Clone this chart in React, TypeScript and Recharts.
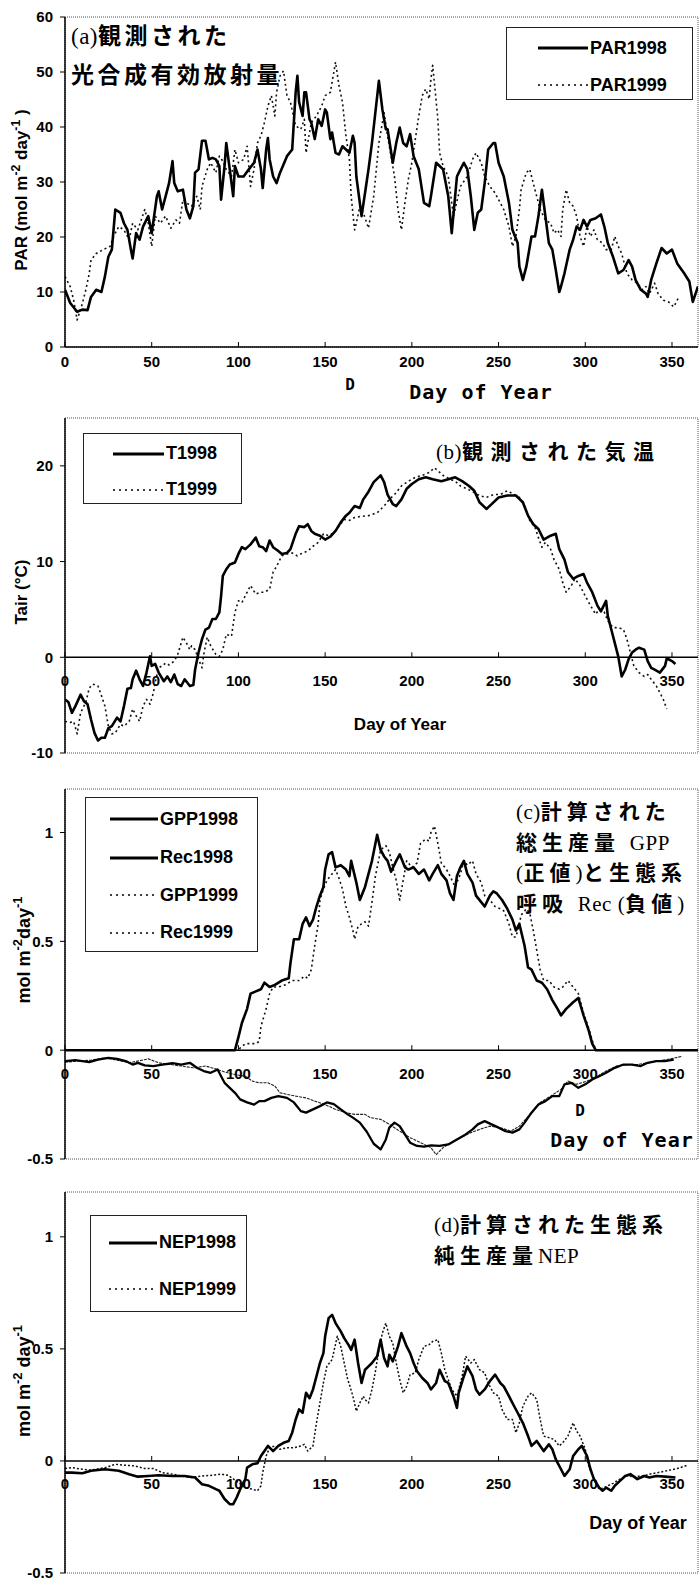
import type { ReactNode } from "react";
import { Line, LineChart, ReferenceArea, ReferenceLine, XAxis, YAxis } from "recharts";

type Pt = [number, number];

// day of year ticks shared by all four panels
const dayTicks = [0, 50, 100, 150, 200, 250, 300, 350];
const parTicks = [0, 10, 20, 30, 40, 50, 60];
const tairTicks = [-10, 0, 10, 20];
const fluxTicks = [-0.5, 0, 0.5, 1];

// (a) PAR, mol m-2 day-1
const par1998: Pt[] = [
  [0, 10.4], [3, 8], [7, 6.4], [10, 6.8], [13, 6.7], [15, 9.1], [18, 10.4], [21, 10], [23, 12.8], [25, 16.4],
  [27, 17.7], [29, 25], [32, 24.4], [34, 22.5], [36, 21.3], [38, 17.7], [39, 16.1], [41, 20.7], [43, 19.5],
  [45, 21.9], [48, 23.8], [50, 20.7], [53, 27.4], [54, 28.3], [56, 25], [58, 27.4], [60, 29.8], [62, 33.8],
  [63, 29.8], [65, 28.3], [68, 28.6], [70, 25], [72, 23.4], [74, 25.6], [75, 31.7], [77, 32.3], [79, 37.5],
  [81, 37.5], [83, 34.1], [85, 34.4], [87, 34.1], [89, 32.9], [90, 26.8], [92, 32.9], [93, 37.1], [95, 32.3],
  [97, 27.4], [98, 32.9], [100, 31], [103, 31], [106, 32.3], [109, 33.5], [111, 35.9], [113, 32.3], [114, 28.9],
  [116, 35.9], [117, 38], [118, 34.1], [120, 31], [122, 29.8], [124, 31.7], [126, 33.2], [128, 34.7], [131, 35.9],
  [133, 46.3], [134, 49.3], [135, 44.5], [137, 42], [138, 46.3], [139, 46.3], [141, 41.4], [142, 40.8], [144, 37.8],
  [146, 41.4], [148, 40.2], [150, 43.2], [151, 42.6], [153, 37.8], [154, 39], [156, 35.3], [158, 35], [160, 36.5],
  [162, 35.9], [164, 35.3], [166, 38.4], [167, 37.1], [168, 31], [170, 26.2], [171, 23.8], [173, 28], [175, 32.3],
  [177, 37.1], [181, 48.4], [183, 43.2], [185, 39.6], [186, 39.6], [189, 33.5], [191, 37.1], [193, 39.9],
  [195, 37.1], [197, 36.5], [199, 38.7], [201, 34.7], [204, 32.3], [207, 26.2], [210, 25.6], [211, 27.4],
  [214, 33.5], [216, 32.9], [218, 32.3], [221, 27.4], [223, 20.7], [226, 31], [228, 32.3], [230, 33.5], [232, 32.3],
  [234, 27.4], [236, 21.3], [238, 24.4], [240, 25], [242, 29.8], [244, 35.9], [247, 37.1], [248, 37.1], [250, 33.5],
  [253, 31], [256, 26.2], [258, 21.3], [261, 18.9], [262, 14.6], [264, 12.2], [266, 14.6], [269, 20.1], [271, 20.1],
  [273, 23.8], [275, 28.6], [277, 23.8], [279, 18.9], [281, 17.7], [283, 14], [285, 10], [286, 11], [288, 13.4],
  [291, 17.7], [293, 19.5], [295, 21.9], [297, 21.3], [299, 23.1], [301, 21.9], [303, 23.1], [306, 23.4],
  [309, 24.1], [311, 21.9], [313, 18.9], [316, 16.4], [319, 13.4], [322, 14], [325, 15.8], [327, 14.6], [329, 12.2],
  [332, 10.4], [335, 9.7], [336, 9.1], [338, 12.2], [341, 15.2], [344, 18], [347, 17], [350, 17.7], [353, 15.2],
  [357, 13.4], [360, 11.9], [362, 8.2], [365, 11],
];

const par1999: Pt[] = [
  [0, 12.8], [3, 11], [5, 8.5], [7, 4.9], [10, 7.9], [12, 10.4], [14, 13.4], [15, 15.8], [18, 17], [22, 17.7],
  [26, 18.3], [28, 20.1], [31, 21.9], [34, 21.3], [37, 19.5], [39, 22.5], [42, 21.3], [46, 25], [48, 22.5],
  [50, 18.3], [52, 23.8], [55, 22.5], [58, 23.8], [61, 21.6], [64, 23.1], [66, 22.5], [68, 26.8], [70, 26.2],
  [73, 25.6], [76, 27.4], [78, 25], [79, 29.2], [82, 32.3], [84, 33.5], [87, 31.7], [89, 34.7], [91, 33.8],
  [93, 32.3], [96, 31], [98, 35.9], [100, 33.5], [103, 34.1], [105, 36.5], [107, 29.2], [109, 32.3], [111, 37.1],
  [113, 38.4], [115, 40.8], [117, 43.8], [119, 45.7], [121, 42], [122, 46.3], [124, 49.3], [126, 50.2], [128, 45.7],
  [130, 44.5], [133, 40.2], [136, 39.6], [138, 41.4], [139, 35.3], [141, 39], [142, 40.8], [145, 42], [148, 43.8],
  [150, 45.7], [153, 46.3], [156, 51.8], [158, 47.5], [160, 44.5], [162, 38.4], [164, 34.1], [165, 27.4],
  [167, 21.3], [168, 22.5], [170, 25.6], [172, 24.4], [175, 21.6], [178, 27.4], [181, 37.1], [184, 42.6],
  [186, 38.4], [188, 34.7], [190, 31], [192, 25], [194, 21.3], [196, 26.2], [198, 30.5], [200, 33.5], [202, 37.8],
  [204, 42], [206, 45.7], [208, 46.9], [210, 45.1], [211, 48.7], [212, 51.2], [213, 48.1], [215, 41.4], [216, 35.3],
  [218, 32.9], [221, 31], [224, 23.8], [228, 29.2], [232, 31], [235, 34.1], [237, 35.3], [240, 33.5], [242, 31],
  [245, 29.2], [248, 28], [251, 26.2], [253, 25], [256, 21.9], [258, 18.3], [260, 20.1], [262, 25], [263, 28.6],
  [266, 31.7], [268, 32.3], [270, 29.8], [272, 27.4], [274, 25], [277, 23.1], [280, 22.5], [282, 20.7], [284, 21.3],
  [286, 20.1], [287, 25], [289, 28.6], [291, 26.2], [293, 25.6], [295, 23.8], [297, 20.1], [299, 18.3], [301, 21.9],
  [303, 20.1], [305, 21.3], [307, 19.5], [310, 18.9], [312, 17.7], [315, 17.7], [317, 20.1], [319, 18.3], [321, 17],
  [324, 13.4], [327, 12.2], [330, 11.6], [333, 10.4], [335, 11], [337, 9.7], [340, 11.6], [342, 9.7], [345, 8.5],
  [348, 8.2], [351, 7.3], [354, 9.1],
];

// (b) air temperature, deg C
const t1998: Pt[] = [
  [0, -4.4], [2, -4.7], [4, -5.8], [6, -5.1], [9, -3.9], [11, -4.6], [13, -4.9], [15, -6.5], [17, -7.9], [19, -8.7],
  [21, -8.4], [23, -8.4], [25, -7.4], [27, -7.2], [30, -6.3], [32, -6.7], [34, -5.1], [36, -3.3], [38, -3.2],
  [39, -2.3], [41, -1.4], [43, -2.3], [45, -3], [47, -1.6], [49, 0.1], [50, -0.9], [52, -0.7], [54, -1.6], [57, -2.5],
  [59, -2], [61, -2.6], [63, -1.8], [65, -2.8], [67, -3], [69, -2.3], [72, -3], [74, -2.9], [75, -1.3], [77, 0.5],
  [79, 1.9], [81, 2.9], [83, 3.1], [85, 4], [87, 4], [89, 4.7], [90, 6.4], [91, 8.5], [93, 9.2], [95, 9.7], [98, 9.9],
  [100, 10.8], [102, 11.5], [104, 11.3], [107, 11.8], [110, 12.5], [112, 11.6], [114, 11.5], [116, 11.1], [118, 12.2],
  [120, 11.5], [123, 11.1], [125, 10.8], [128, 10.9], [130, 11.3], [133, 12.9], [135, 13.7], [138, 13.6], [140, 13.9],
  [142, 13.2], [144, 12.9], [147, 12.7], [150, 12.3], [153, 12.6], [156, 13.2], [159, 14.1], [162, 14.8], [164, 15.1],
  [167, 15.8], [170, 15.6], [172, 16.5], [175, 17.3], [178, 18.3], [182, 19], [184, 18.3], [186, 17], [189, 16],
  [191, 15.8], [194, 16.5], [197, 17.6], [200, 18.1], [204, 18.6], [208, 18.8], [212, 18.6], [217, 18.4], [221, 18.6],
  [225, 18.8], [229, 18.4], [233, 17.9], [236, 17.4], [239, 16.2], [243, 15.5], [246, 16], [250, 16.7], [255, 16.9],
  [260, 16.9], [264, 16.2], [267, 14.8], [270, 13.9], [273, 13.4], [276, 12.3], [278, 12.5], [280, 12.7], [283, 12.9],
  [285, 11.3], [288, 10.2], [290, 8.9], [293, 8.2], [296, 8.5], [299, 8.7], [301, 7.8], [304, 6.8], [307, 5.4],
  [309, 4.8], [312, 5.9], [313, 4.3], [315, 2.9], [317, 1.5], [319, 0.1], [321, -2], [323, -1.3], [325, -0.2],
  [327, 0.5], [329, 0.8], [331, 1], [334, 0.8], [336, -0.4], [338, -1.1], [340, -1.3], [343, -1.6], [346, -0.9],
  [347, -0.1], [350, -0.4], [352, -0.7],
];

const t1999: Pt[] = [
  [0, -6.7], [3, -6.8], [5, -6.7], [7, -8], [9, -5.8], [12, -4.7], [14, -3.2], [16, -2.8], [19, -3], [21, -4],
  [23, -5.1], [25, -7.2], [27, -8], [29, -7.9], [32, -7], [34, -7.2], [37, -6.7], [39, -5.4], [41, -6.1], [43, -6.7],
  [45, -5.1], [47, -4.4], [49, -4.9], [51, -3.7], [52, -2.6], [54, -1.1], [56, -0.9], [58, -0.6], [60, -0.8],
  [63, -0.4], [65, 0.3], [68, 2.1], [70, 1.5], [72, 0.8], [73, 1.2], [75, 0.8], [77, -0.2], [79, -1.1], [80, 0.3],
  [82, 2.1], [84, 1.2], [87, 0.3], [89, 0.1], [91, 0.8], [93, 2.4], [96, 2.2], [98, 4.7], [100, 5.9], [102, 5.7],
  [105, 6.8], [107, 7.5], [110, 6.6], [113, 6.8], [115, 6.8], [118, 7.1], [120, 8.9], [122, 9.5], [125, 10.6],
  [128, 10.8], [131, 10.9], [134, 10.6], [137, 10.9], [140, 11.1], [143, 11.6], [146, 12], [149, 12.9], [152, 12.7],
  [155, 13], [158, 13.7], [161, 14.4], [164, 14.3], [167, 14.6], [170, 14.7], [175, 14.8], [180, 15.1], [184, 15.8],
  [187, 16.5], [190, 17], [194, 17.9], [198, 18.4], [202, 18.8], [206, 19], [210, 19.3], [213, 19.8], [215, 19.5],
  [218, 19], [222, 18.6], [225, 18.4], [228, 17.9], [232, 17.6], [236, 17.2], [239, 16.9], [243, 16.7], [247, 17],
  [251, 17], [255, 17.4], [259, 17], [262, 16.7], [265, 15.8], [268, 14.3], [271, 13.6], [273, 12.5], [275, 11.5],
  [277, 12], [280, 11.3], [282, 10.2], [285, 9.2], [287, 7.8], [289, 6.8], [292, 7.5], [294, 8.2], [297, 7.5],
  [300, 6.4], [303, 5.4], [306, 4.5], [308, 5], [311, 4.7], [313, 3.8], [316, 3.1], [319, 3.1], [322, 2.9],
  [324, 1.9], [326, 0.5], [328, -0.9], [331, -1.6], [334, -2], [336, -1.8], [338, -2.3], [341, -3], [343, -3.7],
  [345, -4.4], [347, -5.4],
];

// (c) GPP (positive) and ecosystem respiration Rec (negative), mol m-2 day-1
const gpp1998: Pt[] = [
  [0, 0], [98, 0], [100, 0.06], [102, 0.125], [105, 0.19], [107, 0.26], [110, 0.27], [113, 0.28], [115, 0.31],
  [118, 0.29], [121, 0.3], [125, 0.32], [129, 0.33], [130, 0.4], [132, 0.51], [135, 0.51], [137, 0.58], [139, 0.61],
  [140, 0.59], [141, 0.57], [143, 0.6], [145, 0.66], [147, 0.71], [149, 0.75], [150, 0.83], [152, 0.9], [154, 0.91],
  [156, 0.84], [159, 0.85], [162, 0.83], [164, 0.8], [165, 0.87], [168, 0.77], [170, 0.69], [173, 0.75], [175, 0.81],
  [177, 0.87], [180, 0.99], [182, 0.92], [184, 0.89], [186, 0.87], [188, 0.82], [191, 0.87], [193, 0.9], [196, 0.84],
  [198, 0.83], [201, 0.84], [204, 0.81], [207, 0.83], [210, 0.78], [212, 0.81], [215, 0.85], [217, 0.81], [220, 0.78],
  [222, 0.72], [224, 0.69], [226, 0.8], [228, 0.84], [230, 0.87], [232, 0.81], [235, 0.77], [237, 0.71], [240, 0.68],
  [242, 0.66], [245, 0.71], [247, 0.73], [249, 0.72], [252, 0.69], [255, 0.65], [258, 0.6], [260, 0.55], [262, 0.58],
  [265, 0.48], [267, 0.38], [269, 0.37], [272, 0.32], [275, 0.31], [278, 0.28], [281, 0.23], [284, 0.19], [286, 0.16],
  [289, 0.19], [293, 0.22], [296, 0.24], [299, 0.16], [302, 0.09], [304, 0.03], [306, 0], [365, 0],
];

const rec1998: Pt[] = [
  [0, -0.05], [6, -0.046], [14, -0.055], [19, -0.043], [25, -0.035], [30, -0.04], [35, -0.05], [39, -0.066],
  [42, -0.058], [46, -0.07], [51, -0.073], [56, -0.066], [62, -0.06], [67, -0.066], [72, -0.058], [76, -0.081],
  [80, -0.096], [84, -0.104], [88, -0.089], [90, -0.12], [92, -0.15], [95, -0.173], [98, -0.196], [101, -0.226],
  [105, -0.24], [109, -0.25], [112, -0.234], [115, -0.234], [119, -0.219], [123, -0.211], [128, -0.219],
  [132, -0.24], [136, -0.28], [139, -0.287], [143, -0.272], [147, -0.257], [151, -0.24], [155, -0.248],
  [159, -0.272], [163, -0.295], [166, -0.31], [170, -0.333], [174, -0.375], [178, -0.43], [182, -0.456],
  [185, -0.41], [187, -0.356], [190, -0.333], [193, -0.349], [196, -0.387], [199, -0.425], [203, -0.44],
  [207, -0.443], [211, -0.437], [216, -0.44], [221, -0.433], [226, -0.41], [231, -0.387], [235, -0.364],
  [238, -0.341], [242, -0.326], [246, -0.341], [250, -0.356], [254, -0.372], [258, -0.379], [262, -0.364],
  [265, -0.333], [269, -0.287], [273, -0.25], [277, -0.234], [281, -0.211], [285, -0.211], [288, -0.157],
  [292, -0.15], [296, -0.173], [300, -0.157], [304, -0.135], [308, -0.12], [312, -0.104], [317, -0.081],
  [322, -0.066], [327, -0.066], [332, -0.073], [336, -0.058], [341, -0.05], [346, -0.05], [351, -0.043],
];

const gpp1999: Pt[] = [
  [0, 0], [100, 0], [101, 0.01], [104, 0.03], [110, 0.03], [112, 0.04], [113, 0.11], [116, 0.19], [118, 0.26],
  [120, 0.29], [123, 0.29], [127, 0.3], [131, 0.32], [135, 0.32], [138, 0.34], [140, 0.33], [142, 0.37], [144, 0.48],
  [146, 0.58], [147, 0.69], [149, 0.74], [151, 0.78], [154, 0.81], [156, 0.83], [158, 0.79], [160, 0.74], [162, 0.66],
  [164, 0.61], [166, 0.55], [167, 0.51], [169, 0.57], [171, 0.58], [173, 0.59], [175, 0.57], [177, 0.68], [179, 0.8],
  [182, 0.92], [185, 0.94], [187, 0.91], [189, 0.84], [191, 0.78], [193, 0.69], [195, 0.78], [197, 0.87], [200, 0.84],
  [203, 0.86], [205, 0.95], [208, 0.97], [210, 0.96], [211, 1.0], [213, 1.03], [215, 0.95], [217, 0.86], [220, 0.83],
  [222, 0.8], [225, 0.75], [228, 0.81], [230, 0.87], [232, 0.85], [235, 0.87], [237, 0.81], [240, 0.77], [242, 0.71],
  [245, 0.69], [248, 0.66], [251, 0.65], [253, 0.64], [256, 0.58], [258, 0.52], [260, 0.52], [262, 0.58], [263, 0.62],
  [266, 0.65], [268, 0.63], [270, 0.55], [272, 0.46], [274, 0.37], [276, 0.32], [279, 0.32], [282, 0.29], [285, 0.28],
  [287, 0.29], [290, 0.32], [293, 0.29], [296, 0.26], [299, 0.17], [302, 0.1], [305, 0.02], [307, 0], [365, 0],
];

const rec1999: Pt[] = [
  [0, -0.055], [8, -0.05], [15, -0.046], [23, -0.035], [30, -0.046], [37, -0.058], [42, -0.05], [48, -0.04],
  [54, -0.058], [61, -0.066], [67, -0.073], [74, -0.081], [81, -0.073], [87, -0.086], [92, -0.1], [98, -0.112],
  [104, -0.12], [108, -0.142], [112, -0.15], [117, -0.15], [121, -0.165], [124, -0.196], [128, -0.203],
  [133, -0.211], [139, -0.219], [144, -0.234], [150, -0.25], [156, -0.272], [162, -0.287], [167, -0.295],
  [173, -0.295], [176, -0.31], [182, -0.318], [187, -0.341], [193, -0.372], [199, -0.402], [205, -0.425],
  [211, -0.448], [214, -0.48], [218, -0.448], [223, -0.425], [228, -0.402], [234, -0.379], [239, -0.364],
  [245, -0.349], [251, -0.356], [257, -0.372], [262, -0.349], [268, -0.295], [274, -0.24], [280, -0.211],
  [286, -0.18], [290, -0.142], [295, -0.157], [301, -0.142], [307, -0.12], [312, -0.096], [318, -0.073],
  [324, -0.066], [330, -0.066], [336, -0.058], [341, -0.05], [347, -0.043], [352, -0.035], [356, -0.028],
];

// (d) net ecosystem production, mol m-2 day-1
const nep1998: Pt[] = [
  [0, -0.052], [4, -0.052], [10, -0.055], [15, -0.044], [23, -0.037], [31, -0.044], [37, -0.059], [42, -0.07],
  [48, -0.067], [54, -0.064], [62, -0.067], [69, -0.067], [75, -0.074], [79, -0.104], [83, -0.111], [87, -0.126],
  [89, -0.133], [92, -0.17], [95, -0.193], [97, -0.193], [99, -0.163], [101, -0.126], [104, -0.081], [105, -0.03],
  [108, -0.015], [111, -0.01], [113, 0.022], [115, 0.044], [117, 0.067], [120, 0.044], [123, 0.067], [126, 0.081],
  [129, 0.089], [131, 0.126], [133, 0.185], [135, 0.23], [137, 0.215], [139, 0.304], [141, 0.28], [143, 0.319],
  [145, 0.378], [147, 0.437], [149, 0.481], [150, 0.556], [152, 0.637], [154, 0.652], [156, 0.615], [159, 0.578],
  [161, 0.548], [164, 0.511], [165, 0.496], [167, 0.541], [169, 0.437], [171, 0.348], [173, 0.407], [175, 0.422],
  [177, 0.437], [180, 0.467], [182, 0.541], [184, 0.459], [186, 0.422], [187, 0.474], [189, 0.444], [192, 0.511],
  [194, 0.57], [197, 0.511], [199, 0.481], [201, 0.437], [203, 0.4], [206, 0.37], [209, 0.348], [211, 0.319],
  [214, 0.348], [216, 0.407], [219, 0.356], [221, 0.348], [224, 0.289], [226, 0.237], [227, 0.304], [230, 0.378],
  [232, 0.422], [235, 0.378], [237, 0.319], [239, 0.296], [242, 0.319], [245, 0.356], [248, 0.385], [251, 0.348],
  [253, 0.333], [256, 0.289], [259, 0.244], [261, 0.215], [264, 0.17], [267, 0.111], [269, 0.067], [272, 0.089],
  [274, 0.067], [276, 0.044], [279, 0.074], [281, 0.052], [283, 0.007], [286, -0.037], [288, -0.067], [291, -0.037],
  [293, 0.022], [296, 0.052], [298, 0.067], [301, 0.022], [303, -0.037], [305, -0.081], [308, -0.119], [310, -0.133],
  [312, -0.119], [315, -0.133], [317, -0.111], [320, -0.089], [323, -0.067], [326, -0.059], [330, -0.081],
  [334, -0.067], [337, -0.074], [341, -0.067], [346, -0.07], [352, -0.074],
];

const nep1999: Pt[] = [
  [0, -0.034], [4, -0.03], [10, -0.037], [15, -0.041], [23, -0.03], [29, -0.015], [34, -0.019], [40, -0.022],
  [46, -0.034], [51, -0.034], [56, -0.052], [62, -0.059], [67, -0.067], [73, -0.074], [79, -0.067], [85, -0.064],
  [90, -0.059], [94, -0.064], [100, -0.096], [104, -0.119], [108, -0.126], [111, -0.133], [113, -0.111],
  [114, -0.052], [116, 0.022], [118, 0.059], [121, 0.067], [124, 0.052], [128, 0.059], [132, 0.059], [136, 0.067],
  [138, 0.074], [140, 0.044], [143, 0.067], [145, 0.17], [147, 0.259], [149, 0.348], [151, 0.422], [154, 0.452],
  [157, 0.556], [159, 0.511], [161, 0.437], [163, 0.363], [164, 0.341], [166, 0.289], [168, 0.222], [170, 0.259],
  [172, 0.289], [173, 0.274], [175, 0.259], [177, 0.319], [179, 0.4], [181, 0.496], [183, 0.57], [185, 0.615],
  [187, 0.556], [189, 0.526], [191, 0.437], [193, 0.363], [195, 0.304], [197, 0.333], [199, 0.385], [202, 0.393],
  [204, 0.452], [207, 0.511], [210, 0.519], [212, 0.533], [215, 0.541], [217, 0.481], [219, 0.407], [221, 0.363],
  [223, 0.319], [226, 0.289], [229, 0.378], [231, 0.467], [234, 0.437], [236, 0.452], [239, 0.407], [242, 0.393],
  [244, 0.348], [247, 0.304], [250, 0.289], [252, 0.23], [255, 0.185], [258, 0.185], [260, 0.126], [262, 0.17],
  [264, 0.244], [267, 0.289], [269, 0.304], [272, 0.274], [274, 0.185], [276, 0.111], [279, 0.104], [282, 0.096],
  [285, 0.067], [287, 0.081], [290, 0.111], [293, 0.17], [295, 0.133], [297, 0.111], [300, 0.052], [302, -0.022],
  [305, -0.081], [308, -0.126], [311, -0.119], [313, -0.111], [316, -0.1], [320, -0.081], [324, -0.067],
  [328, -0.07], [333, -0.067], [337, -0.059], [342, -0.052], [347, -0.044], [353, -0.034], [359, -0.019],
];

const SANS = '"Liberation Sans", Arial, sans-serif';
const JP = '"Noto Sans CJK JP", sans-serif';
const MONO = '"DejaVu Sans Mono", monospace';
const SERIF = '"Liberation Serif", serif';

const SOLID = { stroke: "#000", strokeWidth: 2.6 };
const DOTTED = { stroke: "#111", strokeWidth: 1.6, strokeDasharray: "2 3" };

interface Series {
  key: string;
  points: Pt[];
  style: { stroke: string; strokeWidth: number; strokeDasharray?: string };
}

function toRows(points: Pt[]) {
  return points.map(([day, v]) => ({ day, v }));
}

function formatFlux(v: number) {
  return String(v);
}

interface DayTickProps {
  x?: number;
  y?: number;
  payload?: { value: number };
  lift: number;
  gap: number;
}

function DayTick({ x = 0, y = 0, payload, lift, gap }: DayTickProps) {
  const base = y - lift;
  return (
    <g>
      <line x1={x} x2={x} y1={base} y2={base - 5} stroke="#000" strokeWidth={1} />
      <text
        x={x}
        y={base + gap}
        textAnchor="middle"
        dominantBaseline="central"
        fill="#000"
        fontFamily={SANS}
        fontSize={15}
        fontWeight={700}
      >
        {payload?.value}
      </text>
    </g>
  );
}

interface PanelProps {
  plotTop: number;
  plotBottom: number;
  yDomain: [number, number];
  yTicks: number[];
  zeroAxis: boolean;
  tickGap: number;
  series: Series[];
  tickFormatter?: (v: number) => string;
}

function Panel({ plotTop, plotBottom, yDomain, yTicks, zeroAxis, tickGap, series, tickFormatter }: PanelProps) {
  const pad = 10;
  const bottomPad = 40;
  const plotH = plotBottom - plotTop;
  const lift = zeroAxis ? ((0 - yDomain[0]) / (yDomain[1] - yDomain[0])) * plotH : 0;

  return (
    <div style={{ position: "absolute", left: 0, top: plotTop - pad }}>
      <LineChart width={700} height={plotH + pad + bottomPad} margin={{ top: pad, right: 2, bottom: 0, left: 0 }}>
        <XAxis
          dataKey="day"
          type="number"
          domain={[0, 365]}
          ticks={dayTicks}
          interval={0}
          height={bottomPad}
          allowDataOverflow
          tickSize={0}
          tickMargin={0}
          tickLine={false}
          axisLine={zeroAxis ? false : { stroke: "#000", strokeWidth: 1.5 }}
          tick={(p: any) => <DayTick {...p} lift={lift} gap={tickGap} />}
        />
        <YAxis
          type="number"
          domain={yDomain}
          ticks={yTicks}
          interval={0}
          width={65}
          allowDataOverflow
          tickSize={5}
          tickMargin={7}
          tickFormatter={tickFormatter}
          axisLine={{ stroke: "#000", strokeWidth: 1.5 }}
          tickLine={{ stroke: "#000" }}
          tick={{ fill: "#000", fontSize: 15, fontWeight: 700, fontFamily: SANS }}
        />
        <ReferenceArea
          x1={0}
          x2={365}
          y1={yDomain[0]}
          y2={yDomain[1]}
          fill="none"
          stroke="#555"
          strokeWidth={1}
          strokeDasharray="1 1"
        />
        {zeroAxis && <ReferenceLine y={0} stroke="#000" strokeWidth={1.5} />}
        {series.map((s) => (
          <Line
            key={s.key}
            data={toRows(s.points)}
            dataKey="v"
            type="linear"
            dot={false}
            isAnimationActive={false}
            strokeLinejoin="round"
            {...s.style}
          />
        ))}
      </LineChart>
    </div>
  );
}

interface LegendRow {
  label: string;
  dotted: boolean;
}

function LegendBox(props: {
  left: number;
  top: number;
  width: number;
  height: number;
  rows: LegendRow[];
  rowY: number[];
  lineX: [number, number];
}) {
  const { left, top, width, height, rows, rowY, lineX } = props;
  return (
    <div
      style={{
        position: "absolute",
        left,
        top,
        width,
        height,
        border: "1.5px solid #222",
        boxSizing: "border-box",
        background: "#fff",
      }}
    >
      {rows.map((r, i) => (
        <div
          key={r.label}
          style={{
            position: "absolute",
            left: lineX[0],
            top: rowY[i] - 12,
            height: 24,
            display: "flex",
            alignItems: "center",
            whiteSpace: "nowrap",
          }}
        >
          <svg width={lineX[1] - lineX[0]} height={8}>
            <line
              x1={0}
              x2={lineX[1] - lineX[0]}
              y1={4}
              y2={4}
              stroke="#000"
              strokeWidth={r.dotted ? 1.6 : 3}
              strokeDasharray={r.dotted ? "2 4" : undefined}
            />
          </svg>
          <span style={{ fontFamily: SANS, fontWeight: 700, fontSize: 18, marginLeft: 2 }}>{r.label}</span>
        </div>
      ))}
    </div>
  );
}

function Abs(props: { x: number; y: number; rotate?: boolean; style?: React.CSSProperties; children: ReactNode }) {
  const { x, y, rotate, style, children } = props;
  return (
    <div
      style={{
        position: "absolute",
        left: x,
        top: y,
        transform: `translate(-50%, -50%)${rotate ? " rotate(-90deg)" : ""}`,
        whiteSpace: "nowrap",
        color: "#000",
        ...style,
      }}
    >
      {children}
    </div>
  );
}

const sup = { fontSize: "0.72em", verticalAlign: "0.55em", lineHeight: 0 };
const lat = { fontFamily: SERIF, fontWeight: 400, letterSpacing: 0.5 };

function Title(props: { left: number; top: number; size: number; spacing: number; lineHeight: number; lines: ReactNode[] }) {
  const { left, top, size, spacing, lineHeight, lines } = props;
  return (
    <div
      style={{
        position: "absolute",
        left,
        top,
        fontFamily: JP,
        fontWeight: 700,
        fontSize: size,
        letterSpacing: spacing,
        lineHeight: `${lineHeight}px`,
        whiteSpace: "nowrap",
        color: "#000",
      }}
    >
      {lines.map((l, i) => (
        <div key={i}>{l}</div>
      ))}
    </div>
  );
}

export default function App() {
  return (
    <div
      style={{
        position: "absolute",
        left: 0,
        top: 0,
        width: 700,
        height: 1583,
        overflow: "hidden",
        background: "#fff",
      }}
    >
      {/* (a) PAR */}
      <Panel
        plotTop={17}
        plotBottom={347}
        yDomain={[0, 60]}
        yTicks={parTicks}
        zeroAxis={false}
        tickGap={14}
        series={[
          { key: "par1999", points: par1999, style: DOTTED },
          { key: "par1998", points: par1998, style: SOLID },
        ]}
      />
      <Title
        left={71}
        top={16}
        size={23}
        spacing={3.5}
        lineHeight={37}
        lines={[
          <>
            <span style={lat}>(a)</span>観測された
          </>,
          <>光合成有効放射量</>,
        ]}
      />
      <LegendBox
        left={506}
        top={27}
        width={187}
        height={73}
        rows={[
          { label: "PAR1998", dotted: false },
          { label: "PAR1999", dotted: true },
        ]}
        rowY={[20, 57]}
        lineX={[31, 81]}
      />
      <Abs x={22} y={190} rotate style={{ fontFamily: SANS, fontWeight: 700, fontSize: 17 }}>
        PAR (mol m<span style={sup}>-2</span> day<span style={sup}>-1</span> )
      </Abs>
      <Abs x={350} y={384} style={{ fontFamily: MONO, fontWeight: 700, fontSize: 16 }}>
        D
      </Abs>
      <Abs x={481} y={392} style={{ fontFamily: MONO, fontWeight: 700, fontSize: 20, letterSpacing: 1 }}>
        Day of Year
      </Abs>

      {/* (b) air temperature */}
      <Panel
        plotTop={418}
        plotBottom={753}
        yDomain={[-10, 25]}
        yTicks={tairTicks}
        zeroAxis
        tickGap={23}
        series={[
          { key: "t1999", points: t1999, style: DOTTED },
          { key: "t1998", points: t1998, style: SOLID },
        ]}
      />
      <Title
        left={436}
        top={436}
        size={21}
        spacing={7.5}
        lineHeight={28}
        lines={[
          <>
            <span style={lat}>(b)</span>観測された気温
          </>,
        ]}
      />
      <LegendBox
        left={83}
        top={433}
        width={159}
        height={71}
        rows={[
          { label: "T1998", dotted: false },
          { label: "T1999", dotted: true },
        ]}
        rowY={[19.5, 55.5]}
        lineX={[29, 80]}
      />
      <Abs x={22} y={592} rotate style={{ fontFamily: SANS, fontWeight: 700, fontSize: 17 }}>
        Tair (°C)
      </Abs>
      <Abs x={400} y={725} style={{ fontFamily: SANS, fontWeight: 700, fontSize: 17 }}>
        Day of Year
      </Abs>

      {/* (c) GPP and Rec */}
      <Panel
        plotTop={789}
        plotBottom={1159}
        yDomain={[-0.5, 1.2]}
        yTicks={fluxTicks}
        zeroAxis
        tickGap={23}
        tickFormatter={formatFlux}
        series={[
          { key: "rec1999", points: rec1999, style: { stroke: "#222", strokeWidth: 1.1, strokeDasharray: "3 1" } },
          { key: "gpp1999", points: gpp1999, style: DOTTED },
          { key: "rec1998", points: rec1998, style: { stroke: "#000", strokeWidth: 2.3 } },
          { key: "gpp1998", points: gpp1998, style: SOLID },
        ]}
      />
      <Title
        left={516}
        top={796}
        size={21}
        spacing={5}
        lineHeight={28.7}
        lines={[
          <>
            <span style={lat}>(c)</span>計算された
          </>,
          <>
            総生産量 <span style={lat}>GPP</span>
          </>,
          <>
            <span style={lat}>(</span>正値<span style={lat}>)</span>と生態系
          </>,
          <>
            呼吸 <span style={lat}>Rec (</span>負値<span style={lat}>)</span>
          </>,
        ]}
      />
      <LegendBox
        left={85}
        top={797}
        width={173}
        height={155}
        rows={[
          { label: "GPP1998", dotted: false },
          { label: "Rec1998", dotted: false },
          { label: "GPP1999", dotted: true },
          { label: "Rec1999", dotted: true },
        ]}
        rowY={[21, 59.5, 97, 134.5]}
        lineX={[24, 72]}
      />
      <Abs x={24} y={950} rotate style={{ fontFamily: SANS, fontWeight: 700, fontSize: 18 }}>
        mol m<span style={sup}>-2</span>day<span style={sup}>-1</span>
      </Abs>
      <Abs x={580} y={1110} style={{ fontFamily: MONO, fontWeight: 700, fontSize: 16 }}>
        D
      </Abs>
      <Abs x={622} y={1140} style={{ fontFamily: MONO, fontWeight: 700, fontSize: 20, letterSpacing: 1 }}>
        Day of Year
      </Abs>

      {/* (d) NEP */}
      <Panel
        plotTop={1192}
        plotBottom={1573}
        yDomain={[-0.5, 1.2]}
        yTicks={fluxTicks}
        zeroAxis
        tickGap={23}
        tickFormatter={formatFlux}
        series={[
          { key: "nep1999", points: nep1999, style: { stroke: "#111", strokeWidth: 1.5, strokeDasharray: "2 2" } },
          { key: "nep1998", points: nep1998, style: SOLID },
        ]}
      />
      <Title
        left={434}
        top={1209}
        size={21}
        spacing={5}
        lineHeight={28.7}
        lines={[
          <>
            <span style={lat}>(d)</span>計算された生態系
          </>,
          <>
            純生産量<span style={lat}>NEP</span>
          </>,
        ]}
      />
      <LegendBox
        left={90}
        top={1215}
        width={157}
        height={97}
        rows={[
          { label: "NEP1998", dotted: false },
          { label: "NEP1999", dotted: true },
        ]}
        rowY={[26.5, 73]}
        lineX={[18, 66]}
      />
      <Abs x={24} y={1381} rotate style={{ fontFamily: SANS, fontWeight: 700, fontSize: 18 }}>
        mol m<span style={sup}>-2</span> day<span style={sup}>-1</span>
      </Abs>
      <Abs x={638} y={1523} style={{ fontFamily: SANS, fontWeight: 700, fontSize: 18 }}>
        Day of Year
      </Abs>
    </div>
  );
}
